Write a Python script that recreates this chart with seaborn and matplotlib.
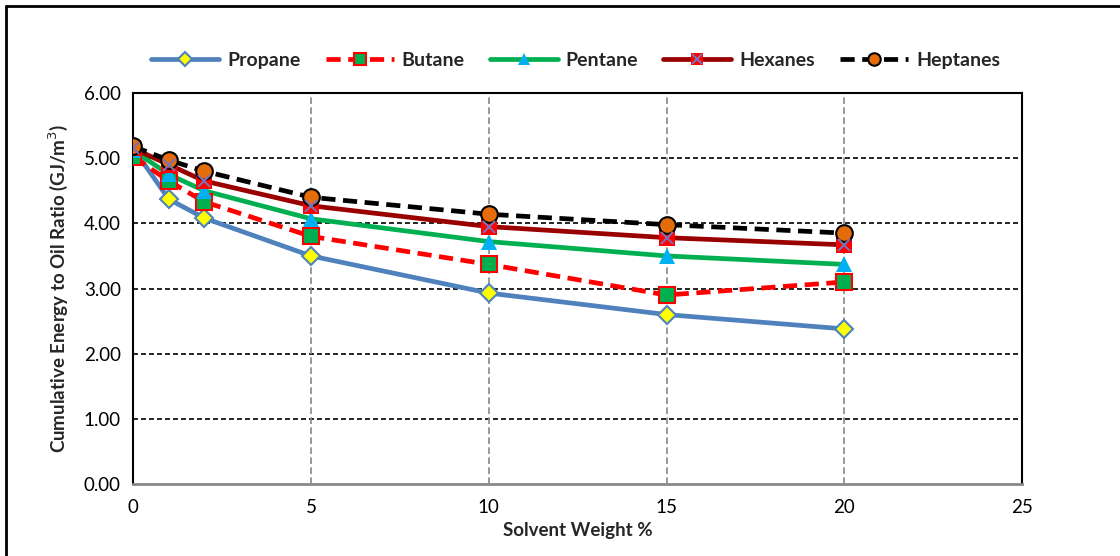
import matplotlib
matplotlib.use("Agg")
import matplotlib.pyplot as plt
from matplotlib.lines import Line2D
import seaborn as sns

# solvent weight %
solvent_wt = [0, 1, 2, 5, 10, 15, 20]

# cumulative energy to oil ratio (GJ/m3)
propane = [5.15, 4.37, 4.08, 3.50, 2.93, 2.60, 2.38]
butane = [5.02, 4.65, 4.33, 3.80, 3.37, 2.90, 3.10]
pentane = [5.12, 4.75, 4.50, 4.07, 3.72, 3.50, 3.37]
hexanes = [5.15, 4.90, 4.65, 4.27, 3.95, 3.78, 3.67]
heptanes = [5.18, 4.97, 4.80, 4.40, 4.14, 3.98, 3.85]

y_ticks = [0, 1, 2, 3, 4, 5, 6]
x_ticks = [0, 5, 10, 15, 20, 25]

sns.set_style("white")
plt.rcParams["font.family"] = ["Lato", "DejaVu Sans"]

fig = plt.figure(figsize=(11.2, 5.56), dpi=100)
ax = fig.add_axes([0.119, 0.1295, 0.7935, 0.7032])

styles = [
    ("Propane", propane, dict(color="#4F81BD", ls="-", marker="D", mfc="#FFFF00", mec="#4F81BD", ms=9, mew=1.5)),
    ("Butane", butane, dict(color="#FF0000", ls=(0, (3, 1.6)), marker="s", mfc="#00B050", mec="#FF0000", ms=12, mew=1.5)),
    ("Pentane", pentane, dict(color="#00B050", ls="-", marker="^", mfc="#00B0F0", mec="#00B0F0", ms=12, mew=0)),
    ("Hexanes", hexanes, dict(color="#990000", ls="-", marker="s", mfc="#FF0000", mec="#FF0000", ms=11, mew=0)),
    ("Heptanes", heptanes, dict(color="#000000", ls=(0, (3, 1.6)), marker="o", mfc="#E46C0A", mec="#000000", ms=12, mew=1.5)),
]

# lines first, then markers on top
for name, vals, st in styles:
    sns.lineplot(x=solvent_wt, y=vals, ax=ax, color=st["color"], linestyle=st["ls"],
                 linewidth=3.4, zorder=3, legend=False)
for name, vals, st in styles:
    ax.plot(solvent_wt, vals, linestyle="none", marker=st["marker"], mfc=st["mfc"],
            mec=st["mec"], ms=st["ms"], mew=st["mew"], zorder=4)
    if name == "Hexanes":
        ax.plot(solvent_wt, vals, linestyle="none", marker="x", color="#7F6FB0",
                ms=9, mew=1.5, zorder=5)

ax.set_xlim(0, 25)
ax.set_ylim(0, 6)
ax.set_xticks(x_ticks)
ax.set_yticks(y_ticks)
ax.set_yticklabels([f"{v:.2f}" for v in y_ticks])
ax.tick_params(axis="both", labelsize=13.5, direction="out", length=5, width=1)
ax.tick_params(axis="x", colors="#888888", labelcolor="black", pad=6)
ax.tick_params(axis="y", colors="black", labelcolor="black", pad=4)

for v in [1, 2, 3, 4, 5]:
    ax.axhline(v, color="black", ls=(0, (3, 1.8)), lw=1.2, zorder=1)
for v in [5, 10, 15, 20]:
    ax.axvline(v, color="#888888", ls=(0, (4, 2)), lw=1.2, zorder=1)

for s in ["left", "top", "right"]:
    ax.spines[s].set_color("black")
    ax.spines[s].set_linewidth(1.5)
ax.spines["bottom"].set_color("#888888")
ax.spines["bottom"].set_linewidth(2)

ax.set_xlabel("Solvent Weight %", fontsize=13.5, fontweight="bold", labelpad=4)
ax.set_ylabel("Cumulative Energy to Oil Ratio (GJ/m$^3$)", fontsize=13.5, fontweight="bold", labelpad=10)

handles = []
for name, vals, st in styles:
    h = Line2D([], [], color=st["color"], linestyle=st["ls"], linewidth=3.4, marker=st["marker"],
               mfc=st["mfc"], mec=st["mec"], ms=st["ms"] * 0.75, mew=st["mew"])
    if name == "Hexanes":
        hx = Line2D([], [], linestyle="none", marker="x", color="#7F6FB0", ms=6.5, mew=1.5)
        h = (h, hx)
    handles.append(h)
fig.legend(handles, [s[0] for s in styles], loc="center", bbox_to_anchor=(0.514, 0.892),
           ncol=5, frameon=False, prop={"weight": "bold", "size": 14},
           handlelength=3.5, columnspacing=1.3, handletextpad=0.4)

# outer chart frame (left and top visible)
fig.add_artist(Line2D([0.0055, 0.0055], [0, 0.99], color="black", lw=2, transform=fig.transFigure))
fig.add_artist(Line2D([0.0055, 1.0], [0.99, 0.99], color="black", lw=2, transform=fig.transFigure))

fig.savefig("out.png", dpi=100)
